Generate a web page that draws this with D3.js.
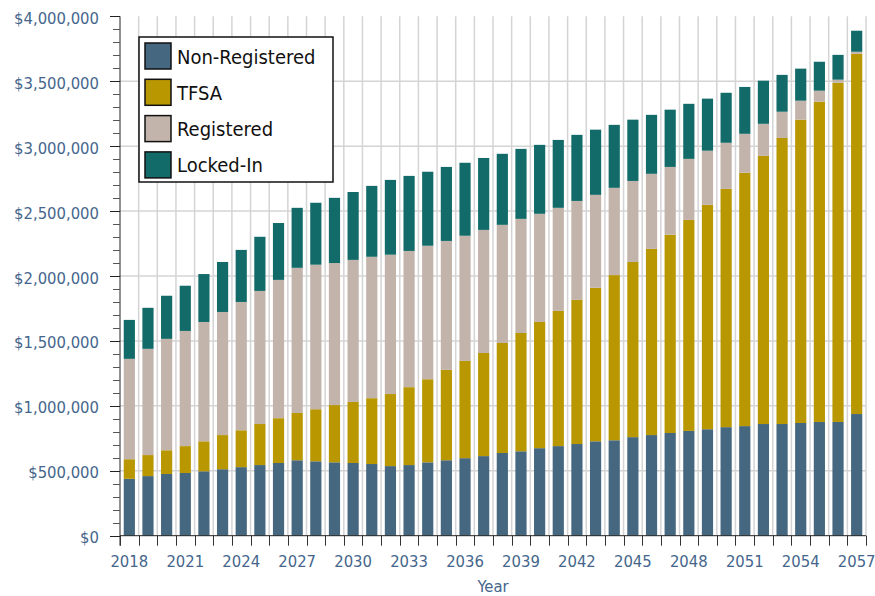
<!DOCTYPE html>
<html>
<head>
<meta charset="utf-8">
<script src="https://cdn.jsdelivr.net/npm/d3@7"></script>
<style>
  body { margin: 0; background: #fff; }
  svg text { font-family: "DejaVu Sans Condensed", "DejaVu Sans", sans-serif; font-stretch: condensed; }
</style>
</head>
<body>
<main></main>
<script>
// chart data
let years = d3.range(2018, 2058).map(String)
let seriesNames = ["Non-Registered", "TFSA", "Registered", "Locked-In"]
let seriesColors = ["#45677f", "#b89700", "#c2b4ab", "#136b69"]

let nonRegistered = [438000, 459000, 475000, 483000, 496000, 512000, 528000, 544000, 560000, 581000,
    573000, 565000, 560000, 552000, 536000, 544000, 565000, 581000, 597000, 613000,
    637000, 650000, 674000, 690000, 706000, 727000, 735000, 759000, 775000, 791000,
    807000, 820000, 836000, 844000, 860000, 860000, 868000, 876000, 876000, 937000]
let tfsa = [151000, 162000, 183000, 207000, 231000, 263000, 284000, 316000, 345000, 364000,
    401000, 441000, 470000, 507000, 555000, 600000, 640000, 696000, 749000, 794000,
    847000, 911000, 972000, 1041000, 1110000, 1182000, 1272000, 1349000, 1434000, 1527000,
    1625000, 1728000, 1835000, 1951000, 2065000, 2203000, 2336000, 2466000, 2612000, 2774000]
let registered = [773000, 818000, 858000, 887000, 919000, 948000, 988000, 1025000, 1065000, 1118000,
    1113000, 1094000, 1094000, 1089000, 1073000, 1049000, 1028000, 993000, 964000, 948000,
    910000, 879000, 833000, 794000, 762000, 716000, 672000, 624000, 578000, 522000,
    470000, 417000, 355000, 300000, 247000, 202000, 146000, 85000, 24000, 16000]
let lockedIn = [300000, 316000, 332000, 348000, 369000, 385000, 401000, 417000, 438000, 462000,
    477000, 502000, 523000, 546000, 576000, 578000, 570000, 570000, 562000, 554000,
    547000, 539000, 531000, 523000, 509000, 502000, 485000, 472000, 454000, 441000,
    424000, 401000, 385000, 361000, 332000, 284000, 247000, 223000, 191000, 162000]

let xLabels = years.filter((y, i) => i % 3 === 0)
let yMajor = d3.range(0, 4000001, 500000)
let yMinor = d3.range(0, 4000001, 100000)

let tableRows = years.map((y, i) => ({
    year: y,
    "Non-Registered": nonRegistered[i],
    "TFSA": tfsa[i],
    "Registered": registered[i],
    "Locked-In": lockedIn[i]
}))

let width = 875, height = 596
let plotLeft = 120, plotRight = 866, plotTop = 16.3, plotBottom = 535.7
let labelColor = "#45668c"

let svg = d3.select('main')
    .append('svg')
    .attr('width', width)
    .attr('height', height)

let x = d3.scaleBand()
    .domain(years)
    .range([plotLeft, plotRight])
    .paddingInner(0.4)
    .paddingOuter(0.2)

let y = d3.scaleLinear()
    .domain([0, 4000000])
    .range([plotBottom, plotTop])

let step = x.step()
let edges = d3.range(0, years.length + 1).map(i => plotLeft + i * step)

// grid
let grid = svg.append("g")
grid.selectAll("line.v")
    .data(edges.slice(1))
    .enter()
    .append("line")
    .attr("x1", d => d).attr("x2", d => d)
    .attr("y1", plotTop).attr("y2", plotBottom)
    .style("stroke", "#d4d4d4")
    .style("stroke-width", 1.5)
grid.selectAll("line.h")
    .data(yMajor.filter(v => v > 0 && v < 4000000))
    .enter()
    .append("line")
    .attr("x1", plotLeft).attr("x2", plotRight)
    .attr("y1", d => y(d)).attr("y2", d => y(d))
    .style("stroke", "#d4d4d4")
    .style("stroke-width", 1.5)

// bars
let stacked = d3.stack().keys(seriesNames)(tableRows)

svg.append("g")
    .selectAll("g")
    .data(stacked)
    .enter()
    .append("g")
    .style("fill", (d, i) => seriesColors[i])
    .selectAll("rect")
    .data(d => d)
    .enter()
    .append("rect")
    .attr("x", d => x(d.data.year))
    .attr("width", x.bandwidth())
    .attr("y", d => y(d[1]))
    .attr("height", d => y(d[0]) - y(d[1]))

// y axis
let yAxis = svg.append("g")
yAxis.append("line")
    .attr("x1", plotLeft).attr("x2", plotLeft)
    .attr("y1", plotTop).attr("y2", plotBottom + 10)
    .style("stroke", "#222")
yAxis.selectAll("line.minor")
    .data(yMinor)
    .enter()
    .append("line")
    .attr("x1", d => d % 500000 === 0 ? plotLeft - 10 : plotLeft - 7)
    .attr("x2", plotLeft)
    .attr("y1", d => Math.round(y(d)) + 0.5)
    .attr("y2", d => Math.round(y(d)) + 0.5)
    .style("stroke", d => d % 500000 === 0 ? "#222" : "#555")
yAxis.selectAll("text")
    .data(yMajor)
    .enter()
    .append("text")
    .attr("x", 99)
    .attr("y", d => y(d) + 7.5)
    .attr("text-anchor", "end")
    .style("font-size", "16.5px")
    .style("fill", labelColor)
    .text(d => "$" + d3.format(",")(d))

// x axis
let xAxis = svg.append("g")
xAxis.append("line")
    .attr("x1", plotLeft).attr("x2", plotRight)
    .attr("y1", plotBottom).attr("y2", plotBottom)
    .style("stroke", "#222")
xAxis.selectAll("line.tick")
    .data(edges)
    .enter()
    .append("line")
    .attr("x1", d => Math.round(d) + 0.5).attr("x2", d => Math.round(d) + 0.5)
    .attr("y1", plotBottom).attr("y2", plotBottom + 10)
    .style("stroke", "#333")
xAxis.selectAll("text")
    .data(xLabels)
    .enter()
    .append("text")
    .attr("x", d => x(d) + x.bandwidth() / 2)
    .attr("y", 567)
    .attr("text-anchor", "middle")
    .style("font-size", "16.5px")
    .style("fill", labelColor)
    .text(d => d)
svg.append("text")
    .attr("x", (plotLeft + plotRight) / 2)
    .attr("y", 592)
    .attr("text-anchor", "middle")
    .style("font-size", "16.5px")
    .style("fill", labelColor)
    .text("Year")

// legend
let legend = svg.append("g")
legend.append("rect")
    .attr("x", 139).attr("y", 37)
    .attr("width", 194).attr("height", 145)
    .style("fill", "white")
    .style("stroke", "#111")
    .style("stroke-width", 1.5)
let items = legend.selectAll("g.item")
    .data(seriesNames)
    .enter()
    .append("g")
    .attr("transform", (d, i) => "translate(0," + (i * 36.3) + ")")
items.append("rect")
    .attr("x", 145).attr("y", 43)
    .attr("width", 26).attr("height", 26)
    .style("fill", (d, i) => seriesColors[i])
    .style("stroke", "#111")
    .style("stroke-width", 1.5)
items.append("text")
    .attr("x", 177)
    .attr("y", 63.5)
    .style("font-size", "20px")
    .style("fill", "#111")
    .text(d => d)
</script>
</body>
</html>
